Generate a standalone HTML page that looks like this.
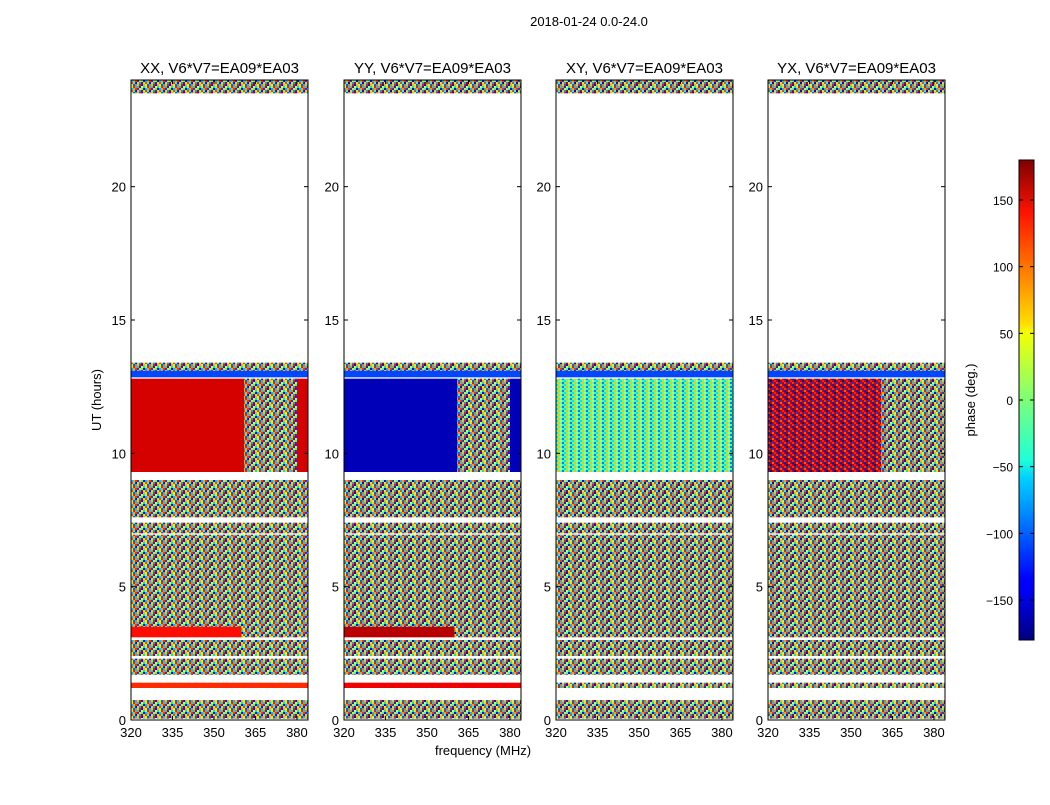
<!DOCTYPE html>
<html><head><meta charset="utf-8"><style>
body{margin:0;background:#fff;font-family:"Liberation Sans",sans-serif;}
svg text{font-family:"Liberation Sans",sans-serif;}
</style></head><body>
<svg id="fig" width="1050" height="800" xmlns="http://www.w3.org/2000/svg">
<defs>
<pattern id="noise" width="14" height="8" patternUnits="userSpaceOnUse">
<rect width="14" height="8" fill="#80ff80"/>
<rect x="0" y="0" width="2" height="2" fill="#00c0ff"/><rect x="2" y="0" width="2" height="2" fill="#ffa000"/><rect x="4" y="0" width="2" height="2" fill="#ff3000"/><rect x="6" y="0" width="2" height="2" fill="#0040ff"/><rect x="8" y="0" width="2" height="2" fill="#ffe000"/><rect x="10" y="0" width="2" height="2" fill="#30ffd0"/><rect x="12" y="0" width="2" height="2" fill="#0000c0"/>
<rect x="0" y="2" width="2" height="2" fill="#ff4000"/><rect x="2" y="2" width="2" height="2" fill="#20ffd0"/><rect x="4" y="2" width="2" height="2" fill="#0000e0"/><rect x="6" y="2" width="2" height="2" fill="#ffd000"/><rect x="8" y="2" width="2" height="2" fill="#00a0ff"/><rect x="10" y="2" width="2" height="2" fill="#c00000"/><rect x="12" y="2" width="2" height="2" fill="#a0ff60"/>
<rect x="0" y="4" width="2" height="2" fill="#c0ff40"/><rect x="2" y="4" width="2" height="2" fill="#0060ff"/><rect x="4" y="4" width="2" height="2" fill="#ff7000"/><rect x="6" y="4" width="2" height="2" fill="#40ffb0"/><rect x="8" y="4" width="2" height="2" fill="#ff1000"/><rect x="10" y="4" width="2" height="2" fill="#0010ff"/><rect x="12" y="4" width="2" height="2" fill="#ffb000"/>
<rect x="0" y="6" width="2" height="2" fill="#ffe000"/><rect x="2" y="6" width="2" height="2" fill="#e02000"/><rect x="4" y="6" width="2" height="2" fill="#00d0ff"/><rect x="6" y="6" width="2" height="2" fill="#ff8000"/><rect x="8" y="6" width="2" height="2" fill="#0030e0"/><rect x="10" y="6" width="2" height="2" fill="#e0ff30"/><rect x="12" y="6" width="2" height="2" fill="#00e0e0"/>
</pattern>
<pattern id="xynoise" width="8" height="4" patternUnits="userSpaceOnUse">
<rect width="8" height="4" fill="#60ffa0"/><rect x="0" y="0" width="2" height="2" fill="#00e0ff"/><rect x="4" y="0" width="2" height="2" fill="#e0ff20"/><rect x="2" y="2" width="2" height="2" fill="#ffc000"/><rect x="6" y="2" width="2" height="2" fill="#0080ff"/><rect x="6" y="0" width="2" height="2" fill="#30ffe0"/>
</pattern>
<pattern id="yxnoise" width="8" height="6" patternUnits="userSpaceOnUse">
<rect width="8" height="6" fill="#c00000"/><rect x="0" y="0" width="2" height="2" fill="#0020d0"/><rect x="4" y="0" width="2" height="2" fill="#ff6000"/><rect x="2" y="2" width="2" height="2" fill="#0000a0"/><rect x="6" y="2" width="2" height="2" fill="#ff2000"/><rect x="4" y="4" width="2" height="2" fill="#0040ff"/><rect x="0" y="4" width="2" height="2" fill="#ff3000"/>
</pattern>
<linearGradient id="jet" x1="0" y1="1" x2="0" y2="0">
<stop offset="0" stop-color="#00007f"/><stop offset="0.11" stop-color="#0000ff"/><stop offset="0.125" stop-color="#0000ff"/><stop offset="0.34" stop-color="#00d4ff"/><stop offset="0.375" stop-color="#1fffd7"/><stop offset="0.5" stop-color="#7cff79"/><stop offset="0.64" stop-color="#f4ff02"/><stop offset="0.66" stop-color="#ffdc00"/><stop offset="0.89" stop-color="#ff1300"/><stop offset="1" stop-color="#7f0000"/>
</linearGradient>
</defs>
<text x="589" y="26" font-size="13" text-anchor="middle">2018-01-24 0.0-24.0</text>
<text x="483" y="755" font-size="13" text-anchor="middle">frequency (MHz)</text>
<text transform="translate(101,400) rotate(-90)" font-size="13" text-anchor="middle">UT (hours)</text>
<g id="panels"></g>
<g id="cbar"></g>
</svg>
<script>
// band boundaries in hours (UT) and per-panel phase values (null = noisy)
const bandStart = [0.05,1.2,1.7,2.0,2.4,3.1,3.5,5.0,7.0,7.6,9.3,12.85,13.1,23.5];
const bandEnd   = [0.75,1.4,2.0,2.3,3.0,3.5,5.0,6.95,7.4,9.0,12.8,13.1,13.4,24.0];
const xxValues = [null,120,null,null,null,130,null,null,null,null,150,-110,null,null];
const yyValues = [null,140,null,null,null,160,null,null,null,null,-160,-110,null,null];
const xyValues = [null,null,null,null,null,null,null,null,null,null,'xy',-110,null,null];
const yxValues = [null,null,null,null,null,null,null,null,null,null,'yx',-110,null,null];
const titles = ["XX, V6*V7=EA09*EA03","YY, V6*V7=EA09*EA03","XY, V6*V7=EA09*EA03","YX, V6*V7=EA09*EA03"];
const panelValues = [xxValues,yyValues,xyValues,yxValues];
const xTicks = [320,335,350,365,380];
const yTicks = [0,5,10,15,20];
const cbTicks = [-150,-100,-50,0,50,100,150];
const coherentFreqEnd = 361;
const panelX = [131,344,556,768];
const W=177, TOP=80, BOT=720;
const NS="http://www.w3.org/2000/svg";
function yS(h){return BOT-(h/24)*(BOT-TOP);}
function xS(f){return (f-320)/64*W;}
function jet(v){const t=(v+180)/360;
 const r=Math.min(1,Math.max(0,1.5-Math.abs(4*t-3))),g=Math.min(1,Math.max(0,1.5-Math.abs(4*t-2))),b=Math.min(1,Math.max(0,1.5-Math.abs(4*t-1)));
 return `rgb(${Math.round(r*255)},${Math.round(g*255)},${Math.round(b*255)})`;}
function mk(tag,attrs,parent){const e=document.createElementNS(NS,tag);for(const k in attrs)e.setAttribute(k,attrs[k]);parent.appendChild(e);return e;}
const P=document.getElementById('panels');
panelValues.forEach((vals,p)=>{
 const g=mk('g',{transform:`translate(${panelX[p]},0)`},P);
 
 
 bandStart.forEach((s,i)=>{
  const y0=yS(bandEnd[i]),y1=yS(s),v=vals[i];
  const addRect=(fa,fb,fill)=>{const r=mk('rect',{x:xS(fa),y:y0,width:xS(fb)-xS(fa),height:y1-y0,fill:fill},g);
   
   };
  if(v===null){addRect(320,384,'url(#noise)');}
  else if(v==='xy'){addRect(320,384,'url(#xynoise)');}
  else if(v==='yx'){addRect(320,coherentFreqEnd,'url(#yxnoise)');addRect(coherentFreqEnd,384,'url(#noise)');}
  else if(i===10){addRect(320,coherentFreqEnd,jet(v));addRect(coherentFreqEnd,380,'url(#noise)');addRect(380,384,jet(v));}
  else if(i===5){addRect(320,360,jet(v));addRect(360,384,'url(#noise)');}
  else{addRect(320,384,jet(v));}
 });
 const fr=mk('rect',{x:0,y:TOP,width:W,height:BOT-TOP,fill:'none',stroke:'#000','stroke-width':1},g);
 
 
 const t=mk('text',{x:W/2,y:73,'font-size':15,'text-anchor':'middle'},g);t.textContent=titles[p];
 
 
 xTicks.forEach(f=>{const x=xS(f);mk('line',{x1:x,x2:x,y1:BOT,y2:BOT-4,stroke:'#000'},g);mk('line',{x1:x,x2:x,y1:TOP,y2:TOP+4,stroke:'#000'},g);
  const l=mk('text',{x:x,y:737,'font-size':13,'text-anchor':'middle'},g);l.textContent=f;
  
  });
 yTicks.forEach(h=>{const y=yS(h);mk('line',{x1:0,x2:4,y1:y,y2:y,stroke:'#000'},g);mk('line',{x1:W,x2:W-4,y1:y,y2:y,stroke:'#000'},g);
  const l=mk('text',{x:-5,y:y+5,'font-size':13,'text-anchor':'end'},g);l.textContent=h;
  
  });
});
const C=document.getElementById('cbar');
const cb=mk('rect',{x:1019,y:160,width:15,height:480,fill:'url(#jet)',stroke:'#000','stroke-width':1},C);


cbTicks.forEach(v=>{const y=400-v*480/360;mk('line',{x1:1019,x2:1023,y1:y,y2:y,stroke:'#000'},C);mk('line',{x1:1034,x2:1030,y1:y,y2:y,stroke:'#000'},C);
 const l=mk('text',{x:1013,y:y+5,'font-size':12,'text-anchor':'end'},C);l.textContent=v<0?'\u2212'+(-v):v;
 
 });
const cl=mk('text',{transform:'translate(975,400) rotate(-90)','font-size':13,'text-anchor':'middle'},C);cl.textContent='phase (deg.)';


</script>
</body></html>
